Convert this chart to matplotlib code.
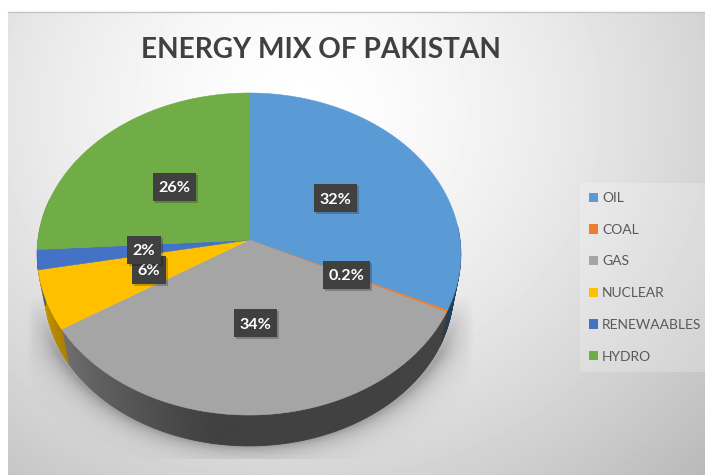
import numpy as np
import matplotlib
matplotlib.use("Agg")
import matplotlib.pyplot as plt
from matplotlib.patches import Patch, Rectangle

categories = ["OIL", "COAL", "GAS", "NUCLEAR", "RENEWAABLES", "HYDRO"]
values = [32, 0.2, 34, 6, 2, 26]
value_labels = ["32%", "0.2%", "34%", "6%", "2%", "26%"]
colors = ["#5B9BD5", "#ED7D31", "#A5A5A5", "#FFC000", "#4472C4", "#70AD47"]
title = "ENERGY MIX OF PAKISTAN"

W, H = 705, 475
CX, CY, RX, RY, K = 249, 240, 211, 159.8, 0.087
DEPTH, SCALE = 37, 0.965

plt.rcParams["font.family"] = ["Lato", "DejaVu Sans"]
fig = plt.figure(figsize=(W / 100, H / 100), dpi=100, facecolor="white")
ax = fig.add_axes([0, 0, 1, 1])
ax.set_xlim(0, W)
ax.set_ylim(H, 0)
ax.axis("off")


def project(theta, r=1.0, lower=False):
    u, v = r * np.sin(theta), r * np.cos(theta)
    w = 1 + K * v
    x, y = RX * u / w, RY * v * -1 / w
    if lower:
        return CX + SCALE * x, CY + DEPTH + SCALE * y
    return CX + x, CY + y


def side_shade(deg):
    return np.interp(deg, [90, 115, 190, 238, 270], [0.46, 0.40, 0.39, 0.67, 0.85])


def darken(hex_color, f):
    return tuple(c * f for c in matplotlib.colors.to_rgb(hex_color))


# Background gradient
yy, xx = np.mgrid[12:H, 8:W]
rho = np.hypot((xx - 300) / 520, (yy - 110) / 470)
bg = 1 - 0.24 * np.clip(rho, 0, 1.15) ** 1.5
ax.imshow(bg, extent=(8, W, H, 12), cmap="gray", vmin=0, vmax=1, zorder=0, aspect="auto")
ax.set_xlim(0, W)
ax.set_ylim(H, 0)
ax.plot([8, W], [11.5, 11.5], color="#c4c4c4", lw=1, zorder=1)

# Soft pie shadow
sy, sx = np.mgrid[280:459, 25:476]
srho = np.hypot((sx - CX) / 212, (sy - 285) / 161)
dist = np.clip((srho - 1) * 185, 0, None)
alpha = (0.27 * np.exp(-dist / 11) * np.clip((sy - 295) / 60, 0, 1)
         * np.clip((sx - 25) / 8, 0, 1) * np.clip((475 - sx) / 8, 0, 1))
shadow = np.zeros(sy.shape + (4,))
shadow[..., 3] = alpha
ax.imshow(shadow, extent=(25, 476, 459, 280), zorder=1.5, aspect="auto")
ax.set_xlim(0, W)
ax.set_ylim(H, 0)

# Slices
fractions = np.array(values) / np.sum(values)
edges = np.concatenate([[0], np.cumsum(fractions)]) * 2 * np.pi

# Extruded rim
for i, c in enumerate(colors):
    a0, a1 = edges[i], edges[i + 1]
    lo, hi = max(a0, np.radians(85)), min(a1, np.radians(285))
    if hi <= lo:
        continue
    steps = max(2, int(np.degrees(hi - lo)))
    t = np.linspace(lo, hi, steps + 1)
    for s0, s1 in zip(t[:-1], t[1:]):
        tt = np.array([s0, s1])
        xu, yu = project(tt)
        xl, yl = project(tt[::-1], lower=True)
        shade = side_shade(np.degrees((s0 + s1) / 2))
        col = darken(c, shade)
        ax.fill(np.r_[xu, xl], np.r_[yu, yl], color=col, lw=0.6, zorder=2)

# Top face
for i, c in enumerate(colors):
    t = np.linspace(edges[i], edges[i + 1], max(3, int(values[i] * 6)))
    x, y = project(t)
    ax.fill(np.r_[CX, x], np.r_[CY, y], facecolor=c, edgecolor=c, lw=0.4, zorder=3)

# Title
ax.text(321, 50, title, ha="center", va="center", fontsize=20.2, fontweight="bold",
        color="#404040", zorder=6)

# Value labels
renderer = fig.canvas.get_renderer()
for i, lab in enumerate(value_labels):
    mid = (edges[i] + edges[i + 1]) / 2
    lx, ly = project(np.array(mid), r=0.5)
    z = 7 + i * 0.1
    t = ax.text(lx, ly, lab, ha="center", va="center_baseline", fontsize=11.6,
                fontweight="bold", color="white", zorder=z + 0.02)
    bw = t.get_window_extent(renderer).width + 11
    bh = 28
    ax.add_patch(Rectangle((lx - bw / 2 + 2, ly - bh / 2 + 2), bw, bh, facecolor="black",
                           alpha=0.22, lw=0, zorder=z))
    ax.add_patch(Rectangle((lx - bw / 2, ly - bh / 2), bw, bh, facecolor="#404040",
                           lw=0, zorder=z + 0.01))

# Legend
handles = [Patch(facecolor=c, edgecolor="none") for c in colors]
leg = ax.legend(handles, categories, loc="upper left", bbox_to_anchor=(580 / W, 1 - 183 / H),
                fontsize=10, labelcolor="#595959", frameon=True, fancybox=False,
                facecolor="white", edgecolor="none", framealpha=0.22,
                handlelength=0.65, handleheight=0.65, handletextpad=0.3,
                labelspacing=1.42, borderpad=0.65, borderaxespad=0, ncols=1)
leg.set_zorder(6)

fig.savefig("out.png", dpi=100, facecolor="white")
